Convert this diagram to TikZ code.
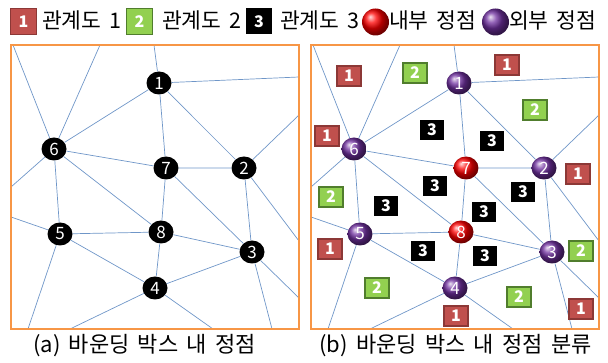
\documentclass[tikz,border=0pt]{standalone}
\usepackage{fontspec}
\setmainfont{Noto Sans CJK KR}
\newfontfamily\lgdfont{Noto Sans CJK KR}[WordSpace=1.1]
\newfontfamily\capfont{Noto Sans CJK KR}[WordSpace=1.7]
\usetikzlibrary{shapes.geometric}
\definecolor{edgec}{RGB}{111,150,200}
\definecolor{boxc}{RGB}{247,150,70}
\definecolor{redb}{RGB}{192,80,77}
\definecolor{redbd}{RGB}{140,56,54}
\definecolor{greenb}{RGB}{146,208,80}
\definecolor{greenbd}{RGB}{80,125,45}
\definecolor{purp}{RGB}{112,48,160}
\tikzset{
  edge/.style={draw=edgec, line width=0.7pt},
  frame/.style={draw=boxc, line width=2pt},
  vtx/.style={ellipse, minimum width=25pt, minimum height=23pt, inner sep=0pt, text=white, font=\fontsize{17}{17}\selectfont},
  blackv/.style={vtx, fill=black},
  innerv/.style={vtx, shading=ball, ball color=red},
  outerv/.style={vtx, shading=ball, ball color=purp},
  badge/.style={rectangle, minimum width=24pt, minimum height=20pt, inner sep=0pt, text=white, font=\fontsize{16}{16}\selectfont\bfseries, line width=1.2pt},
  rb/.style={badge, fill=redb, draw=redbd},
  gb/.style={badge, fill=greenb, draw=greenbd},
  kb/.style={badge, fill=black},
  lgd/.style={minimum width=26pt, minimum height=26pt},
  txt/.style={anchor=west, inner sep=0pt, font=\lgdfont\fontsize{21.5}{22}\selectfont},
  captxt/.style={anchor=west, inner sep=0pt, font=\capfont\fontsize{22}{22}\selectfont},
}
\newcommand\drawpanel[2]{%
  \coordinate (t1) at (154,45);
  \coordinate (t2) at (100,45);
  \coordinate (t3) at (13,45);
  \coordinate (r1) at (299,77);
  \coordinate (r2) at (299,115);
  \coordinate (r3) at (299,241);
  \coordinate (r4) at (299,298);
  \coordinate (l1) at (11,187);
  \coordinate (l2) at (11,217);
  \coordinate (b1) at (28,329);
  \coordinate (b2) at (70,329);
  \coordinate (b3) at (213,329);
  \coordinate (b4) at (272,329);
  \node[#1] (n1) at (159,83) {1};
  \node[#1] (n6) at (54,149) {6};
  \node[#2] (n7) at (166,168) {7};
  \node[#1] (n2) at (244,168) {2};
  \node[#1] (n5) at (60,234) {5};
  \node[#2] (n8) at (161,232) {8};
  \node[#1] (n3) at (252,252) {3};
  \node[#1] (n4) at (155,288) {4};
  \draw[edge] (n1) -- (t1) (n1) -- (r1) (n1) -- (n6) (n1) -- (n7) (n1) -- (n2);
  \draw[edge] (n6) -- (t2) (n6) -- (t3) (n6) -- (l1) (n6) -- (n7) (n6) -- (n5) (n6) -- (n8);
  \draw[edge] (n7) -- (n2) (n7) -- (n8) (n7) -- (n3);
  \draw[edge] (n2) -- (r2) (n2) -- (r3) (n2) -- (n3);
  \draw[edge] (n5) -- (l2) (n5) -- (b1) (n5) -- (n8) (n5) -- (n4);
  \draw[edge] (n8) -- (n3) (n8) -- (n4);
  \draw[edge] (n4) -- (n3) (n4) -- (b2) (n4) -- (b3);
  \draw[edge] (n3) -- (b4) (n3) -- (r4);
  \draw[frame] (11,45) rectangle (299,329);
}
\begin{document}
\begin{tikzpicture}[x=1pt, y=-1pt]
\useasboundingbox (0,0) rectangle (608,363);
% legend
\node[rb, lgd] (L1) at (23.5,21.5) {1};
\node[txt] (LT1) at (42,20) {관계도 1};
\node[gb, lgd] (L2) at (139.5,21.5) {2};
\node[txt] (LT2) at (162,20) {관계도 2};
\node[kb, lgd] (L3) at (259,21.5) {3};
\node[txt] (LT3) at (280,20) {관계도 3};
\node[circle, minimum size=27pt, inner sep=0pt, shading=ball, ball color=red] (L4) at (375.5,22) {};
\node[txt] (LT4) at (389,20) {내부 정점};
\node[circle, minimum size=27pt, inner sep=0pt, shading=ball, ball color=purp] (L5) at (495.5,22) {};
\node[txt] (LT5) at (509,20) {외부 정점};
% left panel
\begin{scope}[name prefix=a-]
  \drawpanel{blackv}{blackv}
\end{scope}
% right panel
\begin{scope}[xshift=300pt, name prefix=b-]
  \drawpanel{outerv}{innerv}
\end{scope}
% badges
\node[rb] (c1) at (349,76) {1};
\node[gb] (c2) at (415,73) {2};
\node[rb] (c3) at (507,65) {1};
\node[gb] (c4) at (535,110) {2};
\node[rb] (c5) at (327,136) {1};
\node[kb] (c6) at (432,130) {3};
\node[kb] (c7) at (492,141) {3};
\node[rb] (c8) at (578,174) {1};
\node[kb] (c9) at (435,186) {3};
\node[kb] (c10) at (523,192) {3};
\node[gb] (c11) at (331,197) {2};
\node[kb] (c12) at (386,206) {3};
\node[kb] (c13) at (484,212) {3};
\node[rb] (c14) at (330,249) {1};
\node[kb] (c15) at (423,251) {3};
\node[kb] (c16) at (485,256) {3};
\node[gb] (c17) at (581,251) {2};
\node[gb] (c18) at (377,288) {2};
\node[gb] (c19) at (519,297) {2};
\node[rb] (c20) at (456,316) {1};
\node[rb] (c21) at (581,309) {1};
% captions
\node[captxt] (capA) at (33,346) {(a) 바운딩 박스 내 정점};
\node[captxt] (capB) at (319,346) {(b) 바운딩 박스 내 정점 분류};
\end{tikzpicture}
\end{document}
